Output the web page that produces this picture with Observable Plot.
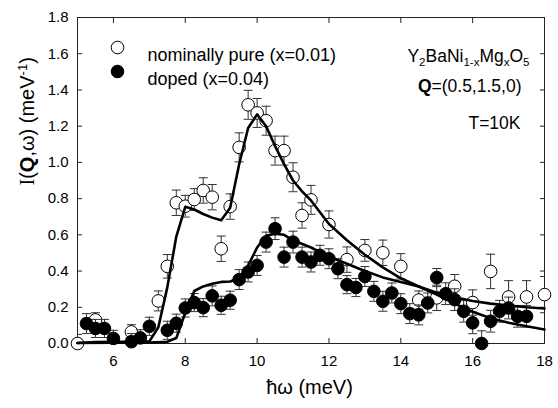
<!DOCTYPE html>
<html>
<head>
<meta charset="utf-8">
<script src="https://cdn.jsdelivr.net/npm/d3@7"></script>
<script src="https://cdn.jsdelivr.net/npm/@observablehq/plot@0.6"></script>
<style>
  html, body { margin: 0; padding: 0; background: white; }
</style>
</head>
<body>
<div id="chart"></div>
<script>
// ---- Data ----
const seriesNames = ["nominally pure (x=0.01)", "doped (x=0.04)"];
const annotations = ["Y2BaNi1-xMgxO5", "Q=(0.5,1.5,0)", "T=10K"];
const xLabel = "ħω (meV)";
const yLabel = "I(Q,ω) (meV-1)";
const xTicks = [6, 8, 10, 12, 14, 16, 18];
const yTicks = [0, 0.2, 0.4, 0.6, 0.8, 1.0, 1.2, 1.4, 1.6, 1.8];

// nominally pure (open circles)
const pureX = [5.0, 5.5, 6.5, 7.25, 7.5, 7.75, 8.0, 8.25, 8.5, 8.75, 9.0, 9.25, 9.5, 9.75, 10.0, 10.25, 10.5, 10.75, 11.0, 11.25, 11.5, 12.0, 12.5, 13.0, 13.5, 14.0, 14.5, 15.0, 15.5, 16.0, 16.5, 17.0, 17.5, 18.0];
const pureY = [0.0, 0.13, 0.064, 0.235, 0.426, 0.777, 0.758, 0.795, 0.845, 0.808, 0.523, 0.756, 1.083, 1.318, 1.273, 1.23, 1.065, 1.065, 0.918, 0.707, 0.793, 0.657, 0.463, 0.514, 0.501, 0.426, 0.24, 0.252, 0.316, 0.226, 0.398, 0.257, 0.257, 0.27];
const pureErr = [0.05, 0.04, 0.04, 0.055, 0.065, 0.07, 0.06, 0.06, 0.07, 0.07, 0.07, 0.07, 0.08, 0.08, 0.08, 0.08, 0.08, 0.08, 0.08, 0.07, 0.08, 0.075, 0.07, 0.06, 0.07, 0.07, 0.05, 0.07, 0.065, 0.07, 0.095, 0.09, 0.09, 0.1];

// doped (filled circles)
const dopedX = [5.25, 5.5, 5.75, 6.0, 6.5, 6.75, 7.0, 7.5, 7.75, 8.0, 8.25, 8.5, 8.75, 9.0, 9.25, 9.5, 9.75, 10.0, 10.25, 10.5, 10.75, 11.0, 11.25, 11.5, 11.75, 12.0, 12.25, 12.5, 12.75, 13.0, 13.25, 13.5, 13.75, 14.0, 14.25, 14.5, 14.75, 15.0, 15.25, 15.5, 15.75, 16.0, 16.25, 16.5, 16.75, 17.0, 17.25, 17.5];
const dopedY = [0.11, 0.083, 0.083, 0.028, 0.01, 0.031, 0.095, 0.073, 0.112, 0.196, 0.226, 0.198, 0.263, 0.211, 0.239, 0.353, 0.395, 0.431, 0.56, 0.634, 0.477, 0.56, 0.477, 0.45, 0.487, 0.468, 0.413, 0.325, 0.309, 0.37, 0.288, 0.233, 0.279, 0.22, 0.165, 0.158, 0.224, 0.364, 0.275, 0.242, 0.178, 0.114, 0.0, 0.123, 0.178, 0.196, 0.15, 0.15];
const dopedErr = [0.055, 0.05, 0.05, 0.045, 0.045, 0.045, 0.05, 0.05, 0.05, 0.05, 0.05, 0.05, 0.055, 0.05, 0.05, 0.055, 0.055, 0.055, 0.055, 0.06, 0.055, 0.06, 0.055, 0.055, 0.055, 0.055, 0.055, 0.05, 0.05, 0.055, 0.055, 0.055, 0.055, 0.055, 0.055, 0.055, 0.055, 0.05, 0.06, 0.06, 0.06, 0.06, 0.07, 0.06, 0.06, 0.06, 0.06, 0.06];

// fit curves
const pureFitX = [5.0, 5.5, 6.0, 6.5, 7.0, 7.25, 7.5, 7.75, 8.0, 8.25, 8.5, 8.75, 9.0, 9.25, 9.5, 9.75, 10.0, 10.25, 10.5, 10.75, 11.0, 11.25, 11.5, 12.0, 12.5, 13.0, 13.5, 14.0, 14.5, 15.0, 15.5, 16.0, 16.5, 17.0, 17.5, 18.0];
const pureFitY = [0.003, 0.008, 0.01, 0.01, 0.012, 0.09, 0.31, 0.59, 0.755, 0.74, 0.715, 0.695, 0.68, 0.75, 0.99, 1.19, 1.265, 1.2, 1.09, 0.99, 0.9, 0.84, 0.79, 0.66, 0.57, 0.49, 0.42, 0.36, 0.315, 0.27, 0.22, 0.175, 0.14, 0.115, 0.095, 0.077];
const dopedFitX = [5.0, 6.0, 7.0, 7.5, 7.75, 8.0, 8.25, 8.5, 8.75, 9.0, 9.25, 9.5, 9.75, 10.0, 10.25, 10.5, 10.75, 11.0, 11.5, 12.0, 12.5, 13.0, 13.5, 14.0, 14.5, 15.0, 15.5, 16.0, 16.5, 17.0, 17.5, 18.0];
const dopedFitY = [0.003, 0.004, 0.005, 0.01, 0.03, 0.17, 0.29, 0.315, 0.33, 0.34, 0.342, 0.36, 0.43, 0.53, 0.595, 0.606, 0.6, 0.57, 0.53, 0.48, 0.44, 0.40, 0.365, 0.34, 0.315, 0.28, 0.255, 0.235, 0.22, 0.21, 0.2, 0.193];

// ---- Tables ----
const pure = pureX.map((x, i) => ({x, y: pureY[i], e: pureErr[i]}));
const doped = dopedX.map((x, i) => ({x, y: dopedY[i], e: dopedErr[i]}));
const pureFit = pureFitX.map((x, i) => ({x, y: pureFitY[i]}));
const dopedFit = dopedFitX.map((x, i) => ({x, y: dopedFitY[i]}));

// horizontal cap symbol for error bars
const cap = {draw(ctx, size) { const w = Math.sqrt(size / Math.PI); ctx.moveTo(-w, 0); ctx.lineTo(w, 0); }};

const ink = "#222";
const errInk = "#333";

function errorMarks(data) {
  return [
    Plot.ruleX(data, {x: "x", y1: d => d.y - d.e, y2: d => d.y + d.e, stroke: errInk, strokeWidth: 1, clip: true}),
    Plot.dot(data, {x: "x", y: d => d.y + d.e, symbol: cap, r: 4.5, stroke: errInk, strokeWidth: 1, fill: "none", clip: true}),
    Plot.dot(data, {x: "x", y: d => d.y - d.e, symbol: cap, r: 4.5, stroke: errInk, strokeWidth: 1, fill: "none", clip: true})
  ];
}

const noText = () => "";

const chart = Plot.plot({
  width: 558,
  height: 408,
  marginLeft: 77,
  marginRight: 14,
  marginTop: 17,
  marginBottom: 65,
  style: {fontFamily: "'Liberation Sans', Arial, sans-serif", fontSize: "15px", color: "black", background: "white"},
  x: {domain: [5, 18]},
  y: {domain: [0, 1.8]},
  marks: [
    // inward ticks on all four sides
    Plot.axisX(xTicks, {anchor: "bottom", tickSize: 5, dy: -5, tickFormat: noText, label: null, stroke: ink}),
    Plot.axisX(xTicks, {anchor: "top", tickSize: 5, dy: 5, tickFormat: noText, label: null, stroke: ink}),
    Plot.axisY(yTicks, {anchor: "left", tickSize: 5, dx: 5, tickFormat: noText, label: null, stroke: ink}),
    Plot.axisY(yTicks, {anchor: "right", tickSize: 5, dx: -5, tickFormat: noText, label: null, stroke: ink}),
    // tick labels
    Plot.axisX(xTicks, {anchor: "bottom", tickSize: 0, tickPadding: 12, fontSize: 15, label: null}),
    Plot.axisY(yTicks, {anchor: "left", tickSize: 0, tickPadding: 9, fontSize: 15, tickFormat: d => d.toFixed(1), label: null}),
    Plot.frame({stroke: ink, strokeWidth: 1}),

    // pure data
    ...errorMarks(pure),
    Plot.dot(pure, {x: "x", y: "y", r: 6.3, stroke: "black", strokeWidth: 1, fill: "white"}),
    // doped data
    ...errorMarks(doped),
    Plot.dot(doped, {x: "x", y: "y", r: 6.3, stroke: "black", strokeWidth: 1, fill: "black"}),

    // fits
    Plot.line(pureFit, {x: "x", y: "y", stroke: "black", strokeWidth: 2.6}),
    Plot.line(dopedFit, {x: "x", y: "y", stroke: "black", strokeWidth: 2.6}),

    // legend
    Plot.dot([seriesNames[0]], {frameAnchor: "top-left", dx: 40, dy: 30, r: 6.3, stroke: "black", strokeWidth: 1, fill: "white"}),
    Plot.dot([seriesNames[1]], {frameAnchor: "top-left", dx: 40, dy: 54, r: 6.3, stroke: "black", strokeWidth: 1, fill: "black"}),
    Plot.text([seriesNames[0]], {text: d => d, frameAnchor: "top-left", dx: 70, dy: 31, textAnchor: "start", fontSize: 18, fill: "black"}),
    Plot.text([seriesNames[1]], {text: d => d, frameAnchor: "top-left", dx: 70, dy: 54.5, textAnchor: "start", fontSize: 18, fill: "black"}),

    // annotations (top right)
    Plot.text([annotations[0]], {text: d => d, frameAnchor: "top-right", dx: -15, dy: 32.5, textAnchor: "end", fontSize: 17.5, fill: "black"}),
    Plot.text([annotations[1]], {text: d => d, frameAnchor: "top-right", dx: -23, dy: 62.5, textAnchor: "end", fontSize: 17.5, fill: "black"}),
    Plot.text([annotations[2]], {text: d => d, frameAnchor: "top-right", dx: -24, dy: 99, textAnchor: "end", fontSize: 17.5, fill: "black"}),

    // axis labels
    Plot.text([xLabel], {text: d => d, frameAnchor: "bottom", dx: -1.5, dy: 50, fontSize: 20, fill: "black"}),
    Plot.text([yLabel], {text: d => d, frameAnchor: "left", dx: -50, dy: 5, rotate: -90, fontSize: 20, fill: "black"})
  ]
});

document.getElementById("chart").appendChild(chart);

// rich text: bold, sub- and superscripts as tspans
function rich(svg, plain, parts) {
  d3.select(svg).selectAll("text").filter(function () { return this.textContent === plain; }).each(function () {
    const t = d3.select(this);
    t.text("");
    let shift = 0;
    for (const p of parts) {
      const ts = t.append("tspan").text(p.t);
      if (p.w) ts.attr("font-weight", p.w);
      if (p.f) ts.attr("font-family", p.f);
      if (p.s) ts.attr("font-size", p.s);
      const want = p.dy || 0;
      if (want !== shift) { ts.attr("dy", want - shift); shift = want; }
    }
  });
}
rich(chart, annotations[0], [
  {t: "Y"}, {t: "2", s: 11.5, dy: 4}, {t: "BaNi"}, {t: "1-x", s: 11.5, dy: 4},
  {t: "Mg"}, {t: "x", s: 11.5, dy: 4}, {t: "O"}, {t: "5", s: 11.5, dy: 4}
]);
rich(chart, annotations[1], [{t: "Q", w: "bold"}, {t: "=(0.5,1.5,0)"}]);
rich(chart, yLabel, [
  {t: "I", f: "'Liberation Serif', serif"}, {t: "("}, {t: "Q", w: "bold"},
  {t: ",ω) (meV"}, {t: "-1", s: 13, dy: -7}, {t: ")"}
]);
</script>
</body>
</html>
